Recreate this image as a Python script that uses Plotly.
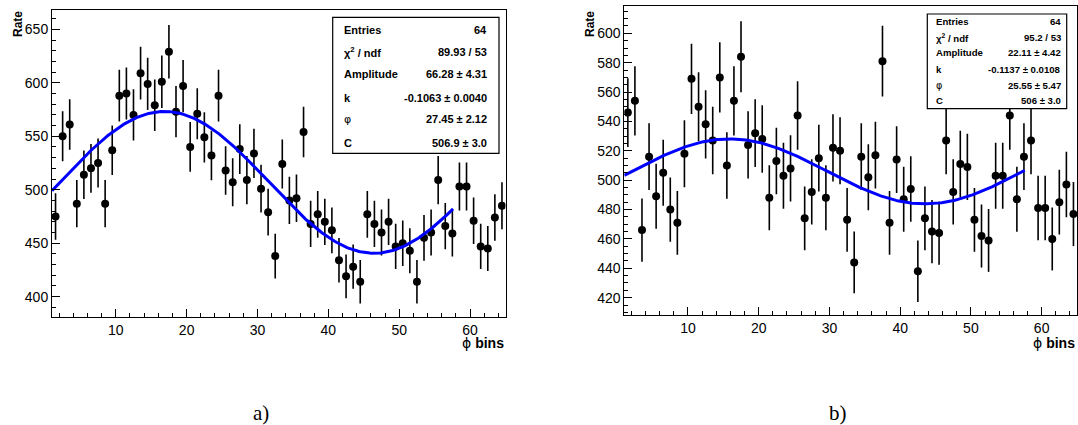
import numpy as np
import plotly.graph_objects as go

# ---------------- data ----------------
bins = [i + 0.5 for i in range(1, 65)]

rate_a = [475, 550, 561, 487, 514, 520, 525, 487, 537, 588,
          590, 570, 609, 599, 579, 601, 629, 573, 597, 540,
          571, 549, 532, 588, 518, 507, 538, 509, 534, 501,
          479, 438, 524, 490, 492, 554, 468, 477, 470, 462,
          434, 419, 428, 414, 477, 468, 460, 470, 447, 450,
          443, 414, 455, 460, 509, 466, 459, 503, 503, 471,
          447, 445, 474, 485]

rate_b = [546, 554, 466, 516, 489, 505, 480, 471, 518, 569,
          550, 538, 527, 570, 510, 554, 584, 524, 532, 528,
          488, 513, 503, 508, 544, 474, 492, 515, 488, 522,
          520, 473, 444, 516, 502, 517, 581, 471, 514, 487,
          494, 438, 474, 465, 464, 527, 492, 511, 509, 473,
          462, 459, 503, 503, 544, 487, 516, 527, 481, 481,
          460, 485, 497, 477]

# fit parameters: Amplitude, k, phi, C
fit_a = dict(A=66.28, k=-0.1063, phi=27.45, C=506.9)
fit_b = dict(A=22.11, k=-0.1137, phi=25.55, C=506.0)
fit_range = [1.0, 57.6]

stats_a = [("Entries", "64"), ("χ<sup>2</sup> / ndf", "89.93 / 53"),
           ("Amplitude", "66.28 ± 4.31"), ("k", "-0.1063 ± 0.0040"),
           ("φ", "27.45 ± 2.12"), ("C", "506.9 ± 3.0")]
stats_b = [("Entries", "64"), ("χ<sup>2</sup> / ndf", "95.2 / 53"),
           ("Amplitude", "22.11 ± 4.42"), ("k", "-0.1137 ± 0.0108"),
           ("φ", "25.55 ± 5.47"), ("C", "506 ± 3.0")]

W, H = 1078, 425


def px(x):
    return x / W


def py(y):
    return 1 - y / H


fig = go.Figure()

xf = np.linspace(fit_range[0], fit_range[1], 300)

for idx, (rates, fit) in enumerate([(rate_a, fit_a), (rate_b, fit_b)]):
    xa = "x" if idx == 0 else "x2"
    ya = "y" if idx == 0 else "y2"
    err = np.sqrt(np.array(rates, dtype=float))
    fig.add_trace(go.Scatter(
        x=bins, y=rates, mode="markers", xaxis=xa, yaxis=ya,
        marker=dict(color="black", size=8),
        error_y=dict(type="data", array=err, visible=True, color="black",
                     thickness=1.6, width=0),
        showlegend=False, hoverinfo="skip"))
    yf = fit["C"] + fit["A"] * np.sin(fit["k"] * (xf + fit["phi"]))
    fig.add_trace(go.Scatter(
        x=xf, y=yf, mode="lines", xaxis=xa, yaxis=ya,
        line=dict(color="#0000ff", width=3),
        showlegend=False, hoverinfo="skip"))

tickfont = dict(family="Liberation Sans, Arial, sans-serif", size=14, color="black")

common_x = dict(range=[1, 65], dtick=10, tick0=0, ticks="inside", ticklen=8,
                tickcolor="black", tickwidth=1, showline=True, linecolor="black",
                linewidth=1, mirror=True, showgrid=False, zeroline=False,
                tickfont=tickfont,
                minor=dict(dtick=2, tick0=0, ticks="inside", ticklen=4,
                           tickcolor="black", tickwidth=1))


def yax(rng, dt, mdt, dom):
    return dict(range=rng, dtick=dt, tick0=0, ticks="inside", ticklen=8,
                tickcolor="black", tickwidth=1, showline=True, linecolor="black",
                linewidth=1, mirror=True, showgrid=False, zeroline=False,
                tickfont=tickfont, domain=dom,
                minor=dict(dtick=mdt, tick0=0, ticks="inside", ticklen=4,
                           tickcolor="black", tickwidth=1))


fig.update_layout(
    width=W, height=H, margin=dict(l=0, r=0, t=0, b=0),
    paper_bgcolor="white", plot_bgcolor="white",
    xaxis=dict(common_x, domain=[px(52), px(505.5)], anchor="y"),
    yaxis=yax([380.7, 668.1], 50, 10, [py(317.3), py(10)]),
    xaxis2=dict(common_x, domain=[px(624.3), px(1077)], anchor="y2"),
    yaxis2=dict(yax([408.2, 618.6], 20, 5, [py(315), py(6)]), anchor="x2"),
)
fig.layout.yaxis.anchor = "x"

shapes = []
annotations = []

PHI = "<span style='font-family:DejaVu Sans'>φ</span>"
PHI_BINS = "<span style='font-family:DejaVu Sans'>ϕ</span> <b>bins</b>"

# stats boxes
for box, stats, fs, label_x, value_x, rows in [
    ((332.7, 17.3, 499, 153.3), stats_a, 11, 341.7, 489.3,
     [30, 51.7, 74, 97.7, 119, 142.7]),
    ((927.3, 14, 1066.7, 108.7), stats_b, 9.6, 934, 1062.7,
     [21.7, 37.7, 52.7, 69.7, 85.3, 100]),
]:
    x0, y0, x1, y1 = box
    shapes.append(dict(type="rect", xref="paper", yref="paper",
                       x0=px(x0), x1=px(x1), y0=py(y1), y1=py(y0),
                       fillcolor="white", line=dict(color="black", width=1.2),
                       layer="above"))
    for (lab, val), ry in zip(stats, rows):
        labtxt = PHI if lab == "φ" else "<b>" + lab + "</b>"
        annotations.append(dict(text=labtxt, x=px(label_x), y=py(ry),
                                xref="paper", yref="paper", xanchor="left",
                                yanchor="middle", showarrow=False,
                                font=dict(family="Liberation Sans, Arial", size=fs,
                                          color="black")))
        annotations.append(dict(text="<b>" + val + "</b>", x=px(value_x), y=py(ry),
                                xref="paper", yref="paper", xanchor="right",
                                yanchor="middle", showarrow=False,
                                font=dict(family="Liberation Sans, Arial", size=fs,
                                          color="black")))

# axis titles
for xr in [505.5, 1077]:
    annotations.append(dict(text=PHI_BINS, x=px(xr), y=py(342.7),
                            xref="paper", yref="paper", xanchor="right",
                            yanchor="middle", showarrow=False,
                            font=dict(family="Liberation Sans, Arial", size=14,
                                      color="black")))
for xc, ytop in [(18, 9), (590, 9)]:
    annotations.append(dict(text="<b>Rate</b>", x=px(xc), y=py(ytop),
                            xref="paper", yref="paper", xanchor="center",
                            yanchor="top", textangle=-90, showarrow=False,
                            font=dict(family="Liberation Sans, Arial", size=12,
                                      color="black")))

# panel labels
for lab, xc in [("a)", 261), ("b)", 838)]:
    annotations.append(dict(text=lab, x=px(xc), y=py(413), xref="paper",
                            yref="paper", xanchor="center", yanchor="middle",
                            showarrow=False,
                            font=dict(family="Liberation Serif, DejaVu Serif, serif",
                                      size=21, color="black")))

fig.update_layout(shapes=shapes, annotations=annotations)

fig.write_html("out.html",
               config={"displayModeBar": False, "staticPlot": True},
               post_script="document.body.style.margin='0';"
                           "document.body.style.padding='0';"
                           "document.body.style.overflow='hidden';")
